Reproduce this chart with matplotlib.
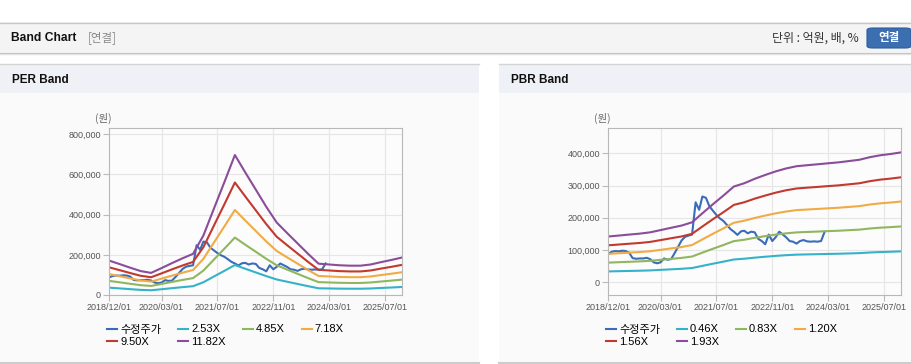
import numpy as np
import pandas as pd
import matplotlib
matplotlib.use("Agg")
import matplotlib.pyplot as plt
from matplotlib.patches import Rectangle, FancyBboxPatch
from matplotlib.ticker import FuncFormatter
from matplotlib.lines import Line2D

W, H = 912, 364
FONTS = ["Liberation Sans", "Noto Sans CJK KR"]
KR = ["Noto Sans CJK KR", "DejaVu Sans"]
plt.rcParams["font.family"] = FONTS

# dates
band_dates = pd.date_range("2018-12-01", "2025-12-01", freq="3MS")
price_dates = pd.date_range("2018-12-01", "2024-02-01", freq="MS")
tick_dates = pd.to_datetime(["2018-12-01", "2020-03-01", "2021-07-01",
                             "2022-11-01", "2024-03-01", "2025-07-01"])
tick_labels = ["2018/12/01", "2020/03/01", "2021/07/01",
               "2022/11/01", "2024/03/01", "2025/07/01"]

# 수정주가 (monthly, 원)
price = [88000, 95000, 97000, 96000, 98000, 97000, 92000, 75000, 73000, 74000,
         74000, 76000, 72000, 62000, 59000, 62000, 74000, 70000, 72000, 90000,
         110000, 130000, 141000, 145000, 148000, 248000, 225000, 266000, 262000, 236000,
         222000, 209000, 198000, 190000, 178000, 165000, 157000, 147000, 158000, 160000,
         152000, 157000, 155000, 135000, 128000, 118000, 148000, 128000, 140000, 157000,
         148000, 140000, 128000, 126000, 120000, 128000, 131000, 127000, 126000, 127000,
         126000, 128000, 157000]

# quarterly EPS / BPS (원)
eps = [14470, 13030, 11510, 10070, 9310, 11340, 13450, 15480, 17340, 25040,
       36380, 47630, 58970, 51690, 44420, 37140, 30540, 26140, 21740, 17340,
       13200, 12860, 12520, 12350, 12350, 12860, 13870, 14810, 15820]
bps = [73600, 75100, 76700, 78200, 80300, 83900, 87600, 91200, 96400, 110900,
       125400, 139400, 153900, 159100, 166300, 172500, 178200, 182900, 186500, 188100,
       189600, 191200, 192700, 194800, 196900, 201000, 204100, 206200, 208800]

per_multiples = [2.53, 4.85, 7.18, 9.50, 11.82]
pbr_multiples = [0.46, 0.83, 1.20, 1.56, 1.93]
per_yticks = [0, 200000, 400000, 600000, 800000]
pbr_yticks = [0, 100000, 200000, 300000, 400000]

price_color = "#3b6cb9"
band_colors = ["#36b2c8", "#90b65e", "#f0ab45", "#c2392f", "#8b4d99"]

# legend is filled row by row in the reference
LEGEND_ORDER = [0, 4, 1, 5, 2, 3]


def rect(fig, x0, y0, x1, y1, **kw):
    fig.patches.append(Rectangle((x0 / W, 1 - y1 / H), (x1 - x0) / W, (y1 - y0) / H,
                                 transform=fig.transFigure, zorder=-2, **kw))


def hline(fig, x0, x1, y, color, lw=1.0):
    fig.add_artist(Line2D([x0 / W, x1 / W], [1 - y / H, 1 - y / H], color=color,
                          lw=lw, transform=fig.transFigure, zorder=-1))


def band_chart(fig, left, values, multiples, ylim, yticks, title, tx):
    ax = fig.add_axes([left / W, 1 - 295 / H, 293 / W, 166.7 / H])
    ax.set_facecolor("#fcfcfc")
    ax.plot(price_dates, price, color=price_color, lw=1.5, label="수정주가")
    for mult, color in zip(multiples, band_colors):
        ax.plot(band_dates, np.array(values) * mult, color=color, lw=1.5,
                label=f"{mult:.2f}X")
    ax.set_xlim(pd.Timestamp("2018-12-01"), pd.Timestamp("2025-12-01"))
    ax.set_ylim(*ylim)
    ax.set_xticks(tick_dates)
    ax.set_xticklabels(tick_labels)
    ax.set_yticks(yticks)
    ax.yaxis.set_major_formatter(FuncFormatter(lambda v, p: f"{v:,.0f}"))
    ax.grid(True, color="#e6e6e6", lw=0.8)
    ax.set_axisbelow(True)
    for s in ax.spines.values():
        s.set_color("#b8b8b8")
        s.set_linewidth(0.8)
    ax.tick_params(length=4, width=0.8, color="#bbbbbb", labelsize=6.5,
                   labelcolor="#555555", pad=2)

    handles, labels = ax.get_legend_handles_labels()
    ax.legend([handles[i] for i in LEGEND_ORDER], [labels[i] for i in LEGEND_ORDER],
              loc="upper left", bbox_to_anchor=((left - 2) / W, 1 - 324.5 / H),
              bbox_transform=fig.transFigure, ncol=4, frameon=False,
              prop={"family": FONTS, "size": 8}, handlelength=0.9,
              handletextpad=0.25, columnspacing=1.55, labelspacing=0.25,
              borderpad=0, borderaxespad=0)
    fig.text((left - 6) / W, 1 - 118 / H, "(원)", family=KR, size=7.5,
             color="#666666", ha="center", va="center")
    fig.text(tx / W, 1 - 80 / H, title, size=8.5, weight="bold", color="#111111",
             va="center")
    return ax


fig = plt.figure(figsize=(W / 100, H / 100), dpi=100)
fig.patch.set_facecolor("white")

# header bar
rect(fig, 0, 22, W, 52, facecolor="#f4f4f4", edgecolor="none")
hline(fig, 0, W, 22.5, "#c8c8c8")
hline(fig, 0, W, 52.5, "#bdbdbd")
hline(fig, 0, W, 53.5, "#e4e4e4")
fig.text(11 / W, 1 - 38 / H, "Band Chart", size=8.7, weight="bold", color="#111111",
         va="center")
fig.text(88 / W, 1 - 38 / H, "[연결]", family=KR, size=8.3, color="#8a8a8a",
         va="center")
fig.text(859 / W, 1 - 38 / H, "단위 : 억원, 배, %", family=KR, size=8.6,
         color="#333333", va="center", ha="right")
fig.patches.append(FancyBboxPatch((867 / W, 1 - 48 / H), 44 / W, 20 / H,
                                  boxstyle="round,pad=0,rounding_size=0.006",
                                  transform=fig.transFigure, facecolor="#3c6fb2",
                                  edgecolor="#2f5d99", lw=0.8, zorder=-1))
fig.text(889 / W, 1 - 38 / H, "연결", family=KR, size=8.3, weight="bold",
         color="white", va="center", ha="center")

# panels
for x0, x1 in [(0, 479), (499, W)]:
    rect(fig, x0, 64, x1, 93, facecolor="#eef2f7", edgecolor="none")
    rect(fig, x0, 93, x1, 362, facecolor="#fafafa", edgecolor="none")
    hline(fig, x0, x1, 64, "#d4d4d4")
    hline(fig, x0, x1, 363, "#cccccc", lw=1.5)

band_chart(fig, 109.3, eps, per_multiples, (0, 830000), per_yticks, "PER Band", 12)
band_chart(fig, 608.3, bps, pbr_multiples, (-39300, 477500), pbr_yticks, "PBR Band", 511)

fig.savefig("out.png", dpi=100)
